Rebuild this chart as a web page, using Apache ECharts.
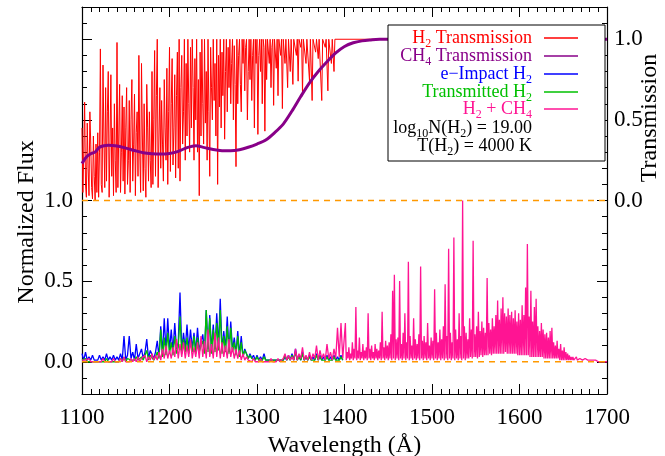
<!DOCTYPE html>
<html>
<head>
<meta charset="utf-8">
<script src="https://cdn.jsdelivr.net/npm/echarts@6/dist/echarts.min.js"></script>
<style>
  html, body { margin: 0; padding: 0; background: #fff; }
  #main { width: 665px; height: 456px; }
</style>
</head>
<body>
<div id="main"></div>
<script>
// wavelength grid (Angstrom)
var xMin = 1100, xMax = 1700;
var fluxLabels = [0, 0.5, 1.0];
var transLabels = [0, 0.5, 1.0];

// H2 transmission, 1100 -> 1390 every 1 A, flat at 1 afterwards
var h2TransStart = 1100, h2TransStep = 1;
var h2Trans = [
  0.45,0.05,0.30,0.61,0.10,0.02,0.48,0.20,0.03,0.55,0.35,0.08,0.01,0.40,0.15,0.00,0.35,0.05,0.42,0.02,
  0.30,0.94,0.10,0.05,0.84,0.40,0.08,0.70,0.12,0.55,0.80,0.02,0.35,0.78,0.15,0.45,0.03,0.60,0.25,0.05,
  0.98,0.08,0.40,0.72,0.05,0.30,0.65,0.12,0.58,0.04,0.45,0.70,0.10,0.25,0.62,0.05,0.50,0.75,0.12,0.35,
  0.66,0.03,0.42,0.55,0.15,0.90,0.30,0.05,0.85,0.40,0.06,0.60,0.20,0.02,0.72,0.45,0.12,0.55,0.25,0.08,
  0.80,0.10,0.50,0.93,0.15,0.65,1.00,0.08,0.40,0.70,0.20,0.62,0.35,0.12,0.75,0.45,0.25,0.82,0.10,0.55,
  0.95,0.18,0.60,0.88,0.22,0.45,0.78,0.14,0.65,0.92,0.20,1.00,0.12,0.70,0.90,0.35,0.55,1.00,0.25,0.85,
  0.40,1.00,0.60,0.30,0.95,0.45,1.00,0.70,0.25,0.88,0.50,1.00,0.30,0.75,0.03,0.92,0.40,1.00,0.60,0.35,
  1.00,0.48,0.80,0.25,1.00,0.55,0.15,0.95,0.70,0.50,1.00,0.62,0.85,0.40,1.00,0.10,0.90,0.58,1.00,0.45,
  0.92,0.65,1.00,0.38,0.80,1.00,0.55,0.95,0.70,1.00,0.60,0.85,1.00,0.50,0.96,0.72,0.21,1.00,0.60,0.90,
  1.00,0.72,0.55,1.00,0.85,1.00,0.68,0.95,1.00,0.50,0.80,1.00,0.75,1.00,0.62,0.90,1.00,0.45,1.00,0.85,
  1.00,0.41,0.90,1.00,0.80,1.00,0.60,1.00,0.95,0.43,1.00,0.75,1.00,1.00,0.85,1.00,0.70,0.95,1.00,0.59,
  1.00,1.00,0.82,1.00,0.65,1.00,1.00,0.90,1.00,0.57,1.00,1.00,0.85,1.00,1.00,0.70,1.00,1.00,0.80,1.00,
  1.00,0.72,1.00,1.00,1.00,0.90,1.00,0.74,1.00,1.00,0.95,1.00,0.66,1.00,1.00,1.00,0.85,1.00,1.00,1.00,
  0.74,1.00,1.00,0.62,1.00,1.00,1.00,0.92,1.00,1.00,0.88,1.00,1.00,1.00,0.62,1.00,1.00,1.00,0.95,1.00,
  1.00,0.68,1.00,1.00,1.00,0.85,1.00,1.00,0.80,1.00,1.00
];
var h2TransTail = [[1700, 1.0]];

// CH4 transmission
var ch4Wave = [1100,1105,1110,1115,1120,1125,1130,1140,1150,1160,1170,1180,1190,1200,1210,1220,1230,1240,
  1250,1260,1270,1280,1290,1300,1310,1320,1330,1340,1350,1360,1370,1380,1390,1400,1410,1420,1430,1440,1700];
var ch4Trans = [0.23,0.27,0.29,0.30,0.33,0.34,0.342,0.338,0.325,0.31,0.296,0.29,0.288,0.292,0.305,0.328,0.34,0.328,
  0.316,0.309,0.308,0.315,0.33,0.35,0.375,0.42,0.474,0.555,0.645,0.73,0.80,0.86,0.915,0.955,0.978,0.99,0.996,1.0,1.0];

// emission, 1100 -> 1398 every 2 A
var emStart = 1100, emStep = 2;
var eImpact = [
  0.05,0.01,0.06,0.01,0.03,0.01,0.04,0.01,0.02,0.01,
  0.04,0.01,0.03,0.01,0.05,0.01,0.03,0.01,0.04,0.01,
  0.03,0.01,0.05,0.01,0.16,0.01,0.04,0.16,0.02,0.06,
  0.01,0.11,0.02,0.05,0.08,0.02,0.06,0.14,0.02,0.07,
  0.08,0.02,0.06,0.13,0.03,0.22,0.05,0.27,0.06,0.27,
  0.07,0.20,0.06,0.24,0.08,0.12,0.43,0.07,0.18,0.08,
  0.23,0.07,0.20,0.08,0.18,0.06,0.21,0.07,0.12,0.17,
  0.06,0.32,0.08,0.29,0.07,0.23,0.08,0.30,0.09,0.39,
  0.07,0.19,0.08,0.28,0.06,0.25,0.07,0.15,0.05,0.19,
  0.04,0.16,0.03,0.08,0.07,0.02,0.05,0.02,0.04,0.01,
  0.04,0.01,0.03,0.01,0.05,0.01,0.02,0.01,0.02,0.01,
  0.02,0.01,0.02,0.01,0.02,0.01,0.03,0.01,0.04,0.01,
  0.05,0.01,0.08,0.01,0.04,0.01,0.06,0.01,0.03,0.01,
  0.04,0.01,0.03,0.01,0.05,0.01,0.04,0.01,0.03,0.01,
  0.04,0.01,0.03,0.01,0.04,0.01,0.03,0.01,0.04,0.01
];
var transmitted = [
  0.01,0.00,0.02,0.00,0.01,0.00,0.01,0.00,0.01,0.00,
  0.01,0.00,0.01,0.00,0.02,0.00,0.01,0.00,0.01,0.00,
  0.01,0.00,0.02,0.00,0.03,0.00,0.02,0.01,0.01,0.02,
  0.01,0.03,0.01,0.02,0.03,0.01,0.02,0.07,0.01,0.04,
  0.04,0.01,0.03,0.06,0.02,0.20,0.03,0.15,0.04,0.18,
  0.05,0.12,0.04,0.16,0.05,0.09,0.28,0.05,0.14,0.06,
  0.15,0.05,0.13,0.06,0.16,0.05,0.15,0.06,0.10,0.13,
  0.05,0.32,0.06,0.27,0.05,0.20,0.06,0.24,0.07,0.32,
  0.05,0.16,0.06,0.22,0.05,0.21,0.06,0.12,0.04,0.16,
  0.03,0.12,0.03,0.07,0.05,0.02,0.04,0.02,0.03,0.01,
  0.03,0.01,0.02,0.01,0.03,0.01,0.02,0.01,0.02,0.01,
  0.02,0.01,0.02,0.01,0.02,0.01,0.04,0.01,0.03,0.01,
  0.04,0.01,0.06,0.01,0.03,0.01,0.05,0.01,0.03,0.01,
  0.03,0.01,0.02,0.01,0.04,0.01,0.03,0.01,0.02,0.01,
  0.03,0.01,0.02,0.01,0.03,0.01,0.02,0.01,0.03,0.01
];
var h2ch4Blue = [
  0.01,0.00,0.01,0.00,0.02,0.00,0.01,0.00,0.01,0.00,
  0.01,0.00,0.02,0.00,0.01,0.00,0.01,0.00,0.02,0.00,
  0.01,0.00,0.02,0.00,0.03,0.00,0.01,0.00,0.02,0.00,
  0.02,0.00,0.03,0.00,0.02,0.01,0.04,0.00,0.03,0.01,
  0.05,0.01,0.04,0.01,0.06,0.01,0.08,0.02,0.10,0.02,
  0.07,0.02,0.09,0.03,0.14,0.02,0.11,0.03,0.12,0.02,
  0.10,0.03,0.14,0.02,0.09,0.03,0.12,0.02,0.16,0.03,
  0.13,0.02,0.20,0.03,0.11,0.02,0.18,0.03,0.15,0.02,
  0.12,0.03,0.10,0.02,0.14,0.03,0.09,0.02,0.08,0.02,
  0.07,0.01,0.05,0.01,0.03,0.01,0.02,0.00,0.02,0.00,
  0.01,0.00,0.02,0.00,0.01,0.00,0.01,0.00,0.02,0.00,
  0.01,0.00,0.02,0.00,0.01,0.02,0.05,0.01,0.04,0.01,
  0.03,0.01,0.08,0.01,0.05,0.02,0.09,0.01,0.04,0.01,
  0.06,0.01,0.05,0.02,0.10,0.01,0.07,0.02,0.05,0.01,
  0.11,0.02,0.06,0.01,0.08,0.02,0.21,0.03,0.24,0.02
];
// H2 + CH4, 1400 -> 1700 every 1 A
var redStart = 1400, redStep = 1;
var h2ch4Red = [
  0.01,0.24,0.01,0.06,0.02,0.09,0.01,0.05,0.02,0.12,
  0.01,0.08,0.02,0.34,0.01,0.07,0.02,0.15,0.01,0.06,
  0.02,0.11,0.01,0.07,0.02,0.09,0.01,0.30,0.02,0.08,
  0.01,0.10,0.02,0.06,0.01,0.11,0.02,0.08,0.01,0.07,
  0.02,0.12,0.01,0.31,0.02,0.09,0.01,0.13,0.02,0.10,
  0.01,0.12,0.02,0.17,0.01,0.44,0.02,0.54,0.01,0.14,
  0.02,0.15,0.01,0.50,0.02,0.11,0.01,0.18,0.02,0.30,
  0.01,0.12,0.02,0.62,0.01,0.16,0.02,0.10,0.01,0.27,
  0.02,0.14,0.01,0.11,0.02,0.17,0.01,0.59,0.02,0.13,
  0.01,0.16,0.02,0.12,0.01,0.24,0.02,0.10,0.01,0.15,
  0.02,0.13,0.01,0.45,0.02,0.18,0.01,0.12,0.02,0.20,
  0.01,0.14,0.02,0.22,0.01,0.48,0.02,0.16,0.01,0.70,
  0.02,0.18,0.01,0.12,0.02,0.77,0.01,0.20,0.02,0.14,
  0.01,0.30,0.02,0.16,0.01,1.00,0.02,0.22,0.01,0.18,
  0.02,0.14,0.02,0.27,0.03,0.20,0.02,0.75,0.03,0.17,
  0.03,0.22,0.02,0.31,0.03,0.19,0.04,0.25,0.03,0.21,
  0.04,0.18,0.04,0.52,0.04,0.24,0.05,0.20,0.04,0.27,
  0.05,0.22,0.05,0.29,0.05,0.38,0.05,0.26,0.05,0.33,
  0.05,0.40,0.05,0.30,0.06,0.28,0.05,0.33,0.05,0.29,
  0.05,0.31,0.05,0.27,0.05,0.32,0.05,0.25,0.04,0.30,
  0.04,0.26,0.04,0.35,0.04,0.29,0.04,0.46,0.04,0.73,
  0.04,0.28,0.03,0.44,0.03,0.25,0.03,0.34,0.03,0.39,
  0.03,0.22,0.03,0.19,0.03,0.24,0.03,0.20,0.02,0.17,
  0.02,0.18,0.02,0.15,0.02,0.19,0.02,0.21,0.02,0.12,
  0.02,0.10,0.02,0.13,0.02,0.08,0.01,0.11,0.01,0.07,
  0.01,0.09,0.01,0.06,0.01,0.05,0.01,0.04,0.01,0.03,
  0.01,0.03,0.01,0.02,0.01,0.03,0.01,0.02,0.01,0.02,
  0.01,0.02,0.01,0.02,0.01,0.02,0.01,0.01,0.01,0.01,
  0.01,0.01,0.00,0.01,0.01,0.01,0.00,0.01,0.00,0.01,
  0.00,0.01,0.00,0.00,0.01,0.00,0.00,0.01,0.00,0.00,
  0.00
];

var FONT = '"Liberation Serif", "Times New Roman", serif';
var C_RED = '#ff0000', C_PUR = '#880088', C_BLUE = '#0000ff', C_GREEN = '#00c000', C_PINK = '#ff1493', C_ORANGE = '#ff9900';

function onGrid(start, step, vals) {
  return vals.map(function (v, i) { return [start + i * step, v]; });
}

var myChart = echarts.init(document.getElementById('main'), null, { renderer: 'canvas' });

var tickStyle = { color: '#000', width: 1 };
function xAx(pos, labels) {
  return {
    type: 'value', position: pos, min: xMin, max: xMax, interval: 100,
    axisLine: { show: true, onZero: false, lineStyle: { color: '#000', width: 1.2 } },
    axisTick: { show: true, inside: true, length: 10, lineStyle: tickStyle },
    minorTick: { show: true, splitNumber: 10, length: 5, lineStyle: tickStyle },
    axisLabel: { show: labels, margin: 12, fontSize: 23, fontFamily: FONT, color: '#000',
      formatter: function (v) { return String(v); } },
    splitLine: { show: false }
  };
}
function yMajor(pos, min, max, ticks, labels) {
  return {
    type: 'value', position: pos, min: min, max: max,
    axisLine: { show: true, onZero: false, lineStyle: { color: '#000', width: 1.2 } },
    axisTick: { show: true, inside: true, length: 10, customValues: ticks, lineStyle: tickStyle },
    axisLabel: { show: true, customValues: labels, margin: pos === 'left' ? 9 : 7, fontSize: 23, fontFamily: FONT, color: '#000',
      formatter: function (v) { return v.toFixed(1); } },
    splitLine: { show: false }
  };
}
function yMinor(pos, min, max) {
  return {
    type: 'value', position: pos, min: min, max: max, interval: 0.1,
    axisLine: { show: false },
    axisTick: { show: true, inside: true, length: 5, lineStyle: tickStyle },
    axisLabel: { show: false },
    splitLine: { show: false }
  };
}
function spec(name, data, color, yIdx, width) {
  return {
    name: name, type: 'line', data: data, xAxisIndex: 0, yAxisIndex: yIdx,
    showSymbol: false, symbol: 'none', lineStyle: { color: color, width: width || 1 },
    itemStyle: { color: color }, animation: false, silent: true
  };
}
function sub(t) { return '{s|' + t + '}'; }
function legendText(y, str, color) {
  return {
    type: 'text', x: 532, y: y, z: 102,
    style: {
      text: str, align: 'right', verticalAlign: 'middle', fill: color,
      font: '18px ' + FONT,
      rich: {
        a: { font: '18px ' + FONT, fill: color },
        s: { font: '12px ' + FONT, fill: color, padding: [11, 0, 0, 0] }
      }
    }
  };
}
function legendLine(y, color) {
  return { type: 'line', z: 102, shape: { x1: 544, y1: y, x2: 578, y2: y }, style: { stroke: color, lineWidth: 1.5 } };
}

var h2TransData = onGrid(h2TransStart, h2TransStep, h2Trans).concat(h2TransTail);
var ch4Data = ch4Wave.map(function (w, i) { return [w, ch4Trans[i]]; });

myChart.setOption({
  animation: false,
  backgroundColor: '#fff',
  grid: { left: 82, right: 58, top: 7, bottom: 62, containLabel: false, outerBoundsMode: 'none' },
  xAxis: [
    Object.assign(xAx('bottom', true), {
      name: 'Wavelength (Å)', nameLocation: 'middle', nameGap: 39,
      nameTextStyle: { fontSize: 24, fontFamily: FONT, color: '#000' }
    }),
    xAx('top', false)
  ],
  yAxis: [
    yMajor('left', -0.2, 2.2, [0, 0.5, 1, 1.5, 2], fluxLabels),
    yMajor('right', -1.2, 1.2, [-1, -0.5, 0, 0.5, 1], transLabels),
    yMinor('left', -0.2, 2.2),
    yMinor('right', -1.2, 1.2)
  ],
  series: [
    spec('e-Impact H2', onGrid(emStart, emStep, eImpact), C_BLUE, 0, 1.3),
    spec('Transmitted H2', onGrid(emStart, emStep, transmitted), C_GREEN, 0, 1.3),
    spec('H2 + CH4', onGrid(emStart, emStep, h2ch4Blue).concat(onGrid(redStart, redStep, h2ch4Red)), C_PINK, 0, 1.3),
    Object.assign(spec('zero', [[xMin, 0], [xMax, 0]], C_ORANGE, 0, 1.5), { lineStyle: { color: C_ORANGE, width: 1.5, type: [6, 5] } }),
    spec('H2 Transmission', h2TransData, C_RED, 1),
    Object.assign(spec('CH4 Transmission', ch4Data, C_PUR, 1, 3), { smooth: 0.3 }),
    Object.assign(spec('one', [[xMin, 1], [xMax, 1]], C_ORANGE, 0, 1.5), { lineStyle: { color: C_ORANGE, width: 1.5, type: [6, 5] } })
  ],
  graphic: [
    { type: 'text', x: 27, y: 222, rotation: Math.PI / 2, z: 50,
      style: { text: 'Normalized Flux', font: '24px ' + FONT, fill: '#000', align: 'center', verticalAlign: 'middle' } },
    { type: 'text', x: 650, y: 118, rotation: Math.PI / 2, z: 50,
      style: { text: 'Transmission', font: '24px ' + FONT, fill: '#000', align: 'center', verticalAlign: 'middle' } },
    { type: 'rect', z: 100, shape: { x: 388, y: 25, width: 217, height: 136 },
      style: { fill: '#fff', stroke: '#000', lineWidth: 1 } },
    legendText(38, '{a|H}' + sub('2') + '{a| Transmission}', C_RED),
    legendText(56, '{a|CH}' + sub('4') + '{a| Transmission}', C_PUR),
    legendText(74, '{a|e\u2212Impact H}' + sub('2'), C_BLUE),
    legendText(92, '{a|Transmitted H}' + sub('2'), C_GREEN),
    legendText(109, '{a|H}' + sub('2') + '{a| + CH}' + sub('4'), C_PINK),
    legendText(128, '{a|log}' + sub('10') + '{a|N(H}' + sub('2') + '{a|) = 19.00}', '#000'),
    legendText(146, '{a|T(H}' + sub('2') + '{a|) = 4000 K}', '#000'),
    legendLine(38, C_RED),
    legendLine(56, C_PUR),
    legendLine(74, C_BLUE),
    legendLine(92, C_GREEN),
    legendLine(109, C_PINK)
  ]
});
</script>
</body>
</html>
